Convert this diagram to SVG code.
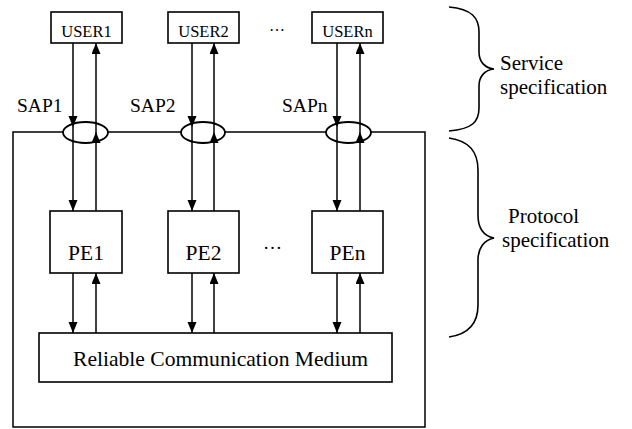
<svg xmlns="http://www.w3.org/2000/svg" width="632" height="429" viewBox="0 0 632 429">
  <defs>
    <marker id="head" markerUnits="userSpaceOnUse" markerWidth="12" markerHeight="10" refX="11" refY="4.5" orient="auto">
      <path d="M0,0 L11,4.5 L0,9 z" fill="#000"/>
    </marker>
  </defs>
  <style>
    .box { fill: #fff; stroke: #000; stroke-width: 1.6; }
    .sap { fill: none; stroke: #000; stroke-width: 1.8; }
    .ln { fill: none; stroke: #000; stroke-width: 1.5; }
    .arr { fill: none; stroke: #000; stroke-width: 1.5; marker-end: url(#head); }
    .brace { fill: none; stroke: #000; stroke-width: 1.6; }
    text { font-family: "Liberation Serif", "Times New Roman", serif; fill: #000; }
    .user { font-size: 16.5px; text-anchor: middle; }
    .pe { font-size: 21.5px; text-anchor: middle; }
    .sapl { font-size: 19.5px; }
    .side { font-size: 21px; }
  </style>

  <!-- system boundary with the service access points on its top edge -->
  <g id="boundary">
    <path class="ln" d="M63,132 H13 V427 H425 V132 H371"/>
    <path class="ln" d="M108,132 H181 M225,132 H326"/>
  </g>

  <g id="connectors">
    <!-- USER1 / PE1 -->
    <line class="arr" x1="73" y1="43" x2="73" y2="127"/>
    <line class="arr" x1="73" y1="127" x2="73" y2="211"/>
    <line class="arr" x1="96" y1="211" x2="96" y2="132"/>
    <line class="arr" x1="96" y1="132" x2="96" y2="43"/>
    <line class="arr" x1="73" y1="273" x2="73" y2="333"/>
    <line class="arr" x1="96" y1="333" x2="96" y2="273"/>
    <!-- USER2 / PE2 -->
    <line class="arr" x1="192" y1="43" x2="192" y2="127"/>
    <line class="arr" x1="192" y1="127" x2="192" y2="211"/>
    <line class="arr" x1="214" y1="211" x2="214" y2="132"/>
    <line class="arr" x1="214" y1="132" x2="214" y2="43"/>
    <line class="arr" x1="192" y1="273" x2="192" y2="333"/>
    <line class="arr" x1="214" y1="333" x2="214" y2="273"/>
    <!-- USERn / PEn -->
    <line class="arr" x1="337" y1="43" x2="337" y2="127"/>
    <line class="arr" x1="337" y1="127" x2="337" y2="211"/>
    <line class="arr" x1="360" y1="211" x2="360" y2="132"/>
    <line class="arr" x1="360" y1="132" x2="360" y2="43"/>
    <line class="arr" x1="337" y1="273" x2="337" y2="333"/>
    <line class="arr" x1="360" y1="333" x2="360" y2="273"/>
  </g>

  <g id="user1">
    <rect class="box" x="51" y="12" width="71" height="31"/>
    <text class="user" x="86.5" y="37">USER1</text>
  </g>
  <g id="user2">
    <rect class="box" x="168" y="12" width="71" height="31"/>
    <text class="user" x="203.5" y="37">USER2</text>
  </g>
  <text x="269" y="31" style="font-size:16px">…</text>
  <g id="usern">
    <rect class="box" x="312" y="12" width="71" height="31"/>
    <text class="user" x="347.5" y="37">USERn</text>
  </g>

  <g id="sap1">
    <ellipse class="sap" cx="85.5" cy="132.5" rx="22.5" ry="10.5"/>
    <text class="sapl" x="17" y="112">SAP1</text>
  </g>
  <g id="sap2">
    <ellipse class="sap" cx="203" cy="132.5" rx="22" ry="10.5"/>
    <text class="sapl" x="130" y="112">SAP2</text>
  </g>
  <g id="sapn">
    <ellipse class="sap" cx="348.5" cy="132.5" rx="22.5" ry="10.5"/>
    <text class="sapl" x="282" y="112">SAPn</text>
  </g>

  <g id="pe1">
    <rect class="box" x="50" y="211" width="72" height="62"/>
    <text class="pe" x="86" y="260">PE1</text>
  </g>
  <g id="pe2">
    <rect class="box" x="168" y="211" width="71" height="62"/>
    <text class="pe" x="203.5" y="260">PE2</text>
  </g>
  <text x="263" y="249" style="font-size:19px">…</text>
  <g id="pen">
    <rect class="box" x="312" y="211" width="71" height="62"/>
    <text class="pe" x="347.5" y="260">PEn</text>
  </g>

  <g id="medium">
    <rect class="box" x="39" y="333" width="353" height="49"/>
    <text x="73" y="366" style="font-size:21.5px" textLength="295" lengthAdjust="spacingAndGlyphs">Reliable Communication Medium</text>
  </g>

  <g id="service-spec">
    <path class="brace" d="M449,7 C472,9 479,18 479,32 L479,52 C479,62 485,68 494,69 C485,70 479,76 479,86 L479,108 C479,122 472,129 449,131"/>
    <text class="side" x="500" y="70">Service</text>
    <text class="side" x="500" y="94">specification</text>
  </g>
  <g id="protocol-spec">
    <path class="brace" d="M449,138 C470,141 478,152 478,170 L478,215 C478,228 484,236 494,238 C484,240 478,248 478,260 L478,305 C478,322 470,334 449,337"/>
    <text class="side" x="508" y="223">Protocol</text>
    <text class="side" x="502" y="247">specification</text>
  </g>
</svg>
